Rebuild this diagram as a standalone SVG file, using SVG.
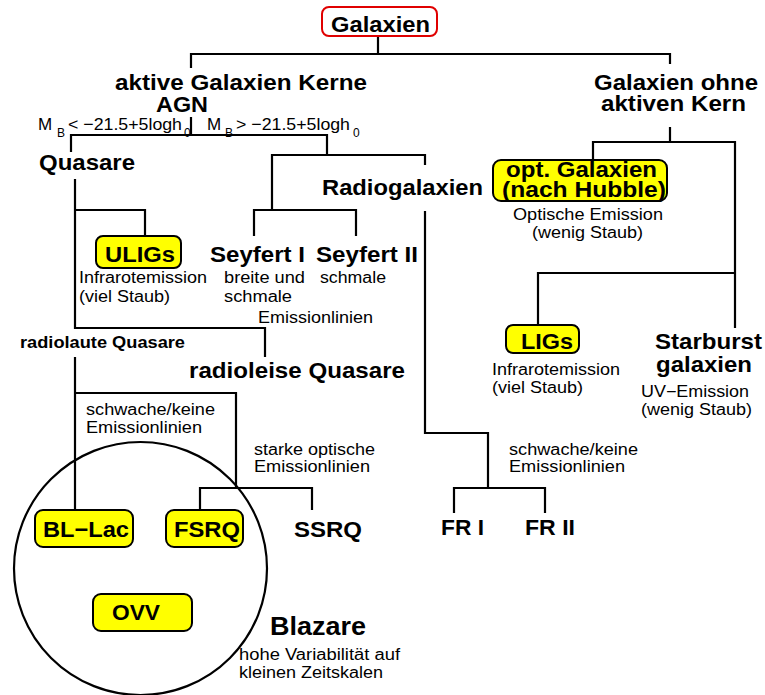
<svg xmlns="http://www.w3.org/2000/svg" width="765" height="695" viewBox="0 0 765 695">
<style>
text{font-family:"Liberation Sans",Arial,Helvetica,sans-serif;fill:#000}
.b{font-weight:bold;font-size:22px}
.bl{font-weight:bold;font-size:25px}
.bs{font-weight:bold;font-size:17px}
.s{font-size:16px}
.m{font-size:17px}
.sub{font-size:12px}
.y{fill:#ffff00;stroke:#000;stroke-width:2}
.c{fill:none;stroke:#000;stroke-width:2.2}
</style>
<rect width="765" height="695" fill="#fff"/>
<g id="connectors" class="c">
<path d="M378,36V54M191,68V54H670V64"/>
<path d="M191,117V135M71,152V135H327V155"/>
<path d="M272,210V155H425V165"/>
<path d="M254,236V210H356V236"/>
<path d="M75,179V328H265V357M75,210H145V236"/>
<path d="M75,357V510M75,393H236V488M200,510V488H312V510"/>
<path d="M425,211V433H488V488M454,513V488H545V513"/>
<path d="M670,127V142M593,160V142H735V328M538,325V273H735"/>
</g>
<g id="blazare-circle"><circle cx="140.5" cy="568.5" r="126.5" class="c"/></g>
<g id="galaxien">
<rect x="322" y="7" width="115" height="29" rx="7" fill="#fff" stroke="#e00000" stroke-width="2"/>
<text class="b" x="331" y="32" textLength="99" lengthAdjust="spacingAndGlyphs">Galaxien</text>
</g>
<g id="agn">
<text class="b" x="115" y="90" textLength="252" lengthAdjust="spacingAndGlyphs">aktive Galaxien Kerne</text>
<text class="b" x="156" y="112" textLength="52" lengthAdjust="spacingAndGlyphs">AGN</text>
</g>
<g id="mb-labels">
<text class="m"><tspan x="38" y="130">M</tspan><tspan class="sub" x="57" y="137">B</tspan><tspan x="68" y="130" textLength="114" lengthAdjust="spacingAndGlyphs">&lt; −21.5+5logh</tspan><tspan class="sub" x="184" y="137">0</tspan></text>
<text class="m"><tspan x="207" y="130">M</tspan><tspan class="sub" x="225" y="137">B</tspan><tspan x="236" y="130" textLength="114" lengthAdjust="spacingAndGlyphs">&gt; −21.5+5logh</tspan><tspan class="sub" x="353" y="137">0</tspan></text>
</g>
<g id="quasare"><text class="b" x="39" y="170" textLength="96" lengthAdjust="spacingAndGlyphs">Quasare</text></g>
<g id="radiogalaxien"><text class="b" x="322" y="195" textLength="161" lengthAdjust="spacingAndGlyphs">Radiogalaxien</text></g>
<g id="ohne-kern">
<text class="b" x="594" y="90" textLength="164" lengthAdjust="spacingAndGlyphs">Galaxien ohne</text>
<text class="b" x="601" y="111" textLength="145" lengthAdjust="spacingAndGlyphs">aktiven Kern</text>
</g>
<g id="opt-galaxien">
<rect class="y" x="493" y="160" width="174" height="41" rx="8"/>
<text class="b" x="506" y="177" textLength="151" lengthAdjust="spacingAndGlyphs">opt. Galaxien</text>
<text class="b" x="502" y="197" textLength="164" lengthAdjust="spacingAndGlyphs">(nach Hubble)</text>
<text class="s" x="513" y="220" textLength="150" lengthAdjust="spacingAndGlyphs">Optische Emission</text>
<text class="s" x="532" y="238" textLength="111" lengthAdjust="spacingAndGlyphs">(wenig Staub)</text>
</g>
<g id="uligs">
<rect class="y" x="96" y="236" width="85" height="32" rx="7"/>
<text class="b" x="105" y="262" textLength="70" lengthAdjust="spacingAndGlyphs">ULIGs</text>
<text class="s" x="79" y="283" textLength="128" lengthAdjust="spacingAndGlyphs">Infrarotemission</text>
<text class="s" x="79" y="302" textLength="91" lengthAdjust="spacingAndGlyphs">(viel Staub)</text>
</g>
<g id="seyfert1">
<text class="b" x="210" y="262" textLength="95" lengthAdjust="spacingAndGlyphs">Seyfert I</text>
<text class="s" x="224" y="283" textLength="81" lengthAdjust="spacingAndGlyphs">breite und</text>
<text class="s" x="224" y="302" textLength="68" lengthAdjust="spacingAndGlyphs">schmale</text>
<text class="s" x="258" y="323" textLength="115" lengthAdjust="spacingAndGlyphs">Emissionlinien</text>
</g>
<g id="seyfert2">
<text class="b" x="316" y="262" textLength="102" lengthAdjust="spacingAndGlyphs">Seyfert II</text>
<text class="s" x="320" y="283" textLength="66" lengthAdjust="spacingAndGlyphs">schmale</text>
</g>
<g id="radiolaute"><text class="bs" x="20" y="348" textLength="165" lengthAdjust="spacingAndGlyphs">radiolaute Quasare</text></g>
<g id="radioleise"><text class="b" x="189" y="378" textLength="216" lengthAdjust="spacingAndGlyphs">radioleise Quasare</text></g>
<g id="ligs">
<rect class="y" x="506" y="325" width="73" height="28" rx="7"/>
<text class="b" x="521" y="349" textLength="52" lengthAdjust="spacingAndGlyphs">LIGs</text>
<text class="s" x="492" y="375" textLength="128" lengthAdjust="spacingAndGlyphs">Infrarotemission</text>
<text class="s" x="492" y="393" textLength="91" lengthAdjust="spacingAndGlyphs">(viel Staub)</text>
</g>
<g id="starburst">
<text class="b" x="655" y="349" textLength="107" lengthAdjust="spacingAndGlyphs">Starburst</text>
<text class="b" x="656" y="372" textLength="96" lengthAdjust="spacingAndGlyphs">galaxien</text>
<text class="s" x="641" y="397" textLength="108" lengthAdjust="spacingAndGlyphs">UV−Emission</text>
<text class="s" x="641" y="415" textLength="111" lengthAdjust="spacingAndGlyphs">(wenig Staub)</text>
</g>
<g id="label-schwach-q">
<text class="s" x="86" y="415" textLength="129" lengthAdjust="spacingAndGlyphs">schwache/keine</text>
<text class="s" x="86" y="433" textLength="116" lengthAdjust="spacingAndGlyphs">Emissionlinien</text>
</g>
<g id="label-stark">
<text class="s" x="254" y="455" textLength="121" lengthAdjust="spacingAndGlyphs">starke optische</text>
<text class="s" x="254" y="472" textLength="116" lengthAdjust="spacingAndGlyphs">Emissionlinien</text>
</g>
<g id="label-schwach-r">
<text class="s" x="509" y="455" textLength="129" lengthAdjust="spacingAndGlyphs">schwache/keine</text>
<text class="s" x="509" y="472" textLength="116" lengthAdjust="spacingAndGlyphs">Emissionlinien</text>
</g>
<g id="bllac">
<rect class="y" x="35" y="510" width="98" height="37" rx="8"/>
<text class="b" x="43" y="537" textLength="86" lengthAdjust="spacingAndGlyphs">BL−Lac</text>
</g>
<g id="fsrq">
<rect class="y" x="166" y="510" width="77" height="37" rx="8"/>
<text class="b" x="174" y="537" textLength="66" lengthAdjust="spacingAndGlyphs">FSRQ</text>
</g>
<g id="ssrq"><text class="b" x="294" y="537" textLength="68" lengthAdjust="spacingAndGlyphs">SSRQ</text></g>
<g id="fr1"><text class="b" x="441" y="535" textLength="43" lengthAdjust="spacingAndGlyphs">FR I</text></g>
<g id="fr2"><text class="b" x="525" y="535" textLength="50" lengthAdjust="spacingAndGlyphs">FR II</text></g>
<g id="ovv">
<rect class="y" x="93" y="594" width="99" height="37" rx="8"/>
<text class="b" x="112" y="620" textLength="48" lengthAdjust="spacingAndGlyphs">OVV</text>
</g>
<g id="blazare">
<text class="bl" x="270" y="635" textLength="96" lengthAdjust="spacingAndGlyphs">Blazare</text>
<text class="s" x="239" y="660" textLength="161" lengthAdjust="spacingAndGlyphs">hohe Variabilität auf</text>
<text class="s" x="239" y="678" textLength="144" lengthAdjust="spacingAndGlyphs">kleinen Zeitskalen</text>
</g>
</svg>
